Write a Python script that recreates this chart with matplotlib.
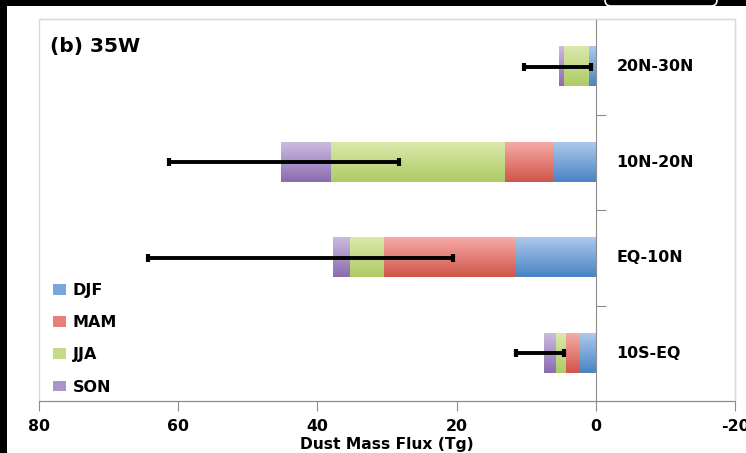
import matplotlib.pyplot as plt
import numpy as np
from matplotlib.colors import to_rgb
from matplotlib.patches import Patch, Rectangle, FancyBboxPatch
from matplotlib.transforms import IdentityTransform

plt.rcParams["font.family"] = ["DejaVu Sans"]
plt.rcParams["font.weight"] = "bold"

# data (Tg), bottom to top
regions = ["10S-EQ", "EQ-10N", "10N-20N", "20N-30N"]
djf = [2.5, 11.7, 6.2, 1.0]
mam = [1.95, 18.8, 6.9, 0.1]
jja = [1.3, 5.0, 25.1, 3.5]
son = [1.65, 2.3, 7.1, 0.7]
annual_mean = [8.0, 42.45, 44.8, 5.5]
annual_std = [3.5, 21.95, 16.5, 4.8]

seasons = ["DJF", "MAM", "JJA", "SON"]
season_values = [djf, mam, jja, son]
# (top, bottom) gradient colours, Excel style
season_colors = [
    ("#abc8ec", "#4a84c5"),
    ("#f6aaa6", "#d0564a"),
    ("#dbe8ab", "#aecb66"),
    ("#cbbadf", "#8b6db0"),
]
legend_colors = ["#7aa6db", "#e8807a", "#c6db8a", "#ab94c9"]

W, H = 746, 453
fig = plt.figure(figsize=(W / 100, H / 100), dpi=100, facecolor="black")

# white sheet inside the black border
fig.patches.append(
    Rectangle((7, 0), W - 7, H - 6, transform=IdentityTransform(),
              facecolor="white", edgecolor="none", zorder=-10)
)
fig.patches.append(
    FancyBboxPatch((605, H - 6), 112, 30, boxstyle="round,pad=0,rounding_size=6",
                   transform=IdentityTransform(), facecolor="black",
                   edgecolor="white", linewidth=1.2, zorder=-5)
)

ax = fig.add_axes([39 / W, (H - 401) / H, (735 - 39) / W, (401 - 19) / H])
ax.set_zorder(5)
ax.set_facecolor("none")

y = np.arange(len(regions))
bar_h = 0.41
t = np.linspace(0, 1, 40)[:, None, None]
left = np.zeros(len(regions))
for vals, (c_top, c_bot) in zip(season_values, season_colors):
    vals = np.asarray(vals, dtype=float)
    grad = (1 - t) * np.array(to_rgb(c_top)) + t * np.array(to_rgb(c_bot))
    for yi, x0, w in zip(y, left, vals):
        if w <= 0:
            continue
        ax.imshow(grad, extent=(x0, x0 + w, yi - bar_h / 2, yi + bar_h / 2),
                  origin="upper", aspect="auto", interpolation="bilinear", zorder=2)
    left += vals

ax.errorbar(annual_mean, y, xerr=annual_std, fmt="none", ecolor="black",
            elinewidth=2.8, capsize=3, capthick=3, zorder=4)

for yi, name in zip(y, regions):
    ax.text(-3.0, yi, name, ha="left", va="center", fontsize=11.4,
            fontweight="bold", color="black")

ax.set_xlim(80, -20)
ax.set_ylim(-0.5, len(regions) - 0.5)
ax.set_xticks([80, 60, 40, 20, 0, -20])
ax.set_xticklabels(["80", "60", "40", "20", "0", "-20"], fontsize=11.3,
                   fontweight="bold")
ax.set_xlabel("Dust Mass Flux (Tg)", fontsize=11.2, fontweight="bold", labelpad=2)

# category axis sits at x = 0, ticks between categories
ax.spines["left"].set_position(("data", 0))
ax.spines["left"].set_color("#8c8c8c")
ax.set_yticks(np.arange(len(regions) - 1) + 0.5)
ax.set_yticklabels([])
ax.tick_params(axis="y", direction="in", length=7, color="#8c8c8c")
ax.spines["bottom"].set_color("#8c8c8c")
ax.tick_params(axis="x", direction="out", length=7, color="#8c8c8c", pad=6)
for side in ["top", "right"]:
    ax.spines[side].set_color("#d9d9d9")
ax.add_patch(Rectangle((0, 0), 1, 1, transform=ax.transAxes, fill=False,
                       edgecolor="#d9d9d9", linewidth=1, clip_on=False, zorder=0))

ax.text(0.016, 0.927, "(b) 35W", transform=ax.transAxes, fontsize=14.5,
        fontweight="bold", ha="left", va="center")

handles = [Patch(facecolor=c, edgecolor="none") for c in legend_colors]
ax.legend(handles, seasons, loc="lower left", bbox_to_anchor=(0.02, 0.017),
          frameon=False, handlelength=0.85, handleheight=0.65,
          handletextpad=0.4, labelspacing=1.07, borderaxespad=0, borderpad=0,
          prop={"weight": "bold", "size": 11.5})

fig.savefig("out.png", dpi=100, facecolor=fig.get_facecolor())
